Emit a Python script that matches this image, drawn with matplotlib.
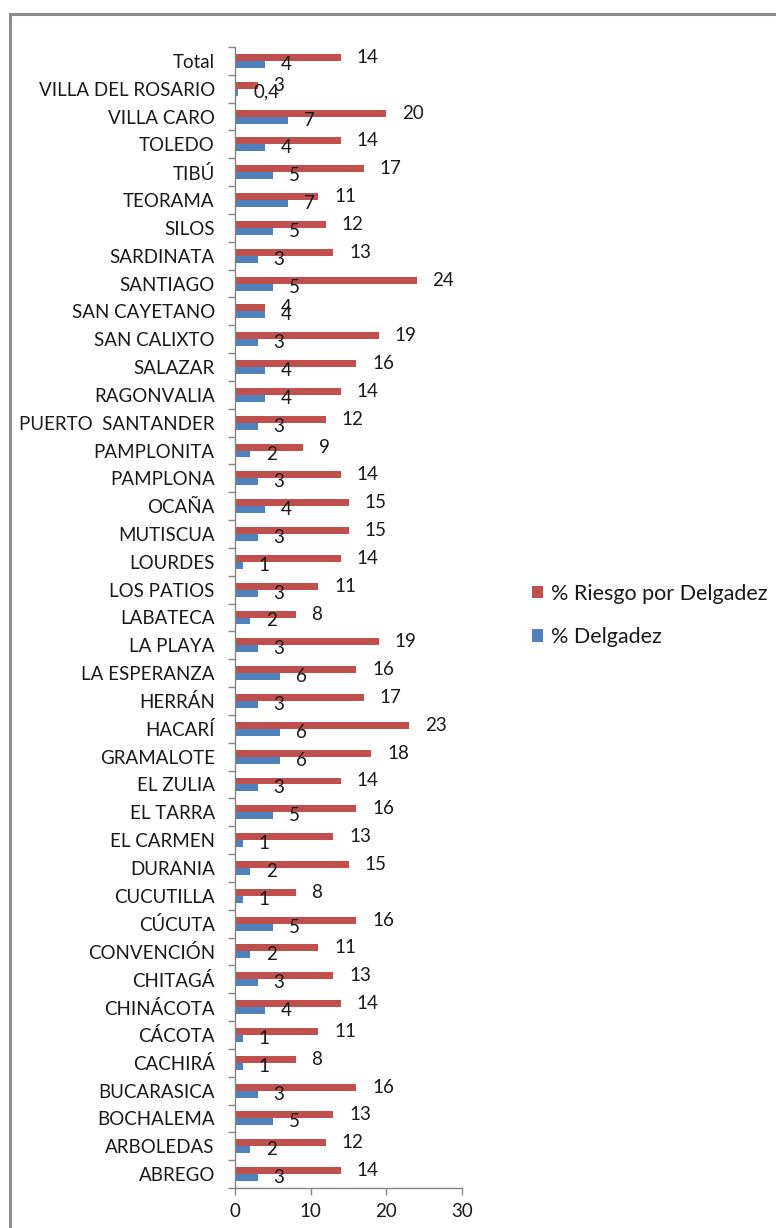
import matplotlib
matplotlib.use("Agg")
import matplotlib.pyplot as plt
from matplotlib.patches import Rectangle
import numpy as np

plt.rcParams['font.family'] = ['Lato', 'DejaVu Sans']

municipios = [
    "ABREGO", "ARBOLEDAS", "BOCHALEMA", "BUCARASICA", "CACHIRÁ", "CÁCOTA",
    "CHINÁCOTA", "CHITAGÁ", "CONVENCIÓN", "CÚCUTA", "CUCUTILLA", "DURANIA",
    "EL CARMEN", "EL TARRA", "EL ZULIA", "GRAMALOTE", "HACARÍ", "HERRÁN",
    "LA ESPERANZA", "LA PLAYA", "LABATECA", "LOS PATIOS", "LOURDES",
    "MUTISCUA", "OCAÑA", "PAMPLONA", "PAMPLONITA", "PUERTO  SANTANDER",
    "RAGONVALIA", "SALAZAR", "SAN CALIXTO", "SAN CAYETANO", "SANTIAGO",
    "SARDINATA", "SILOS", "TEORAMA", "TIBÚ", "TOLEDO", "VILLA CARO",
    "VILLA DEL ROSARIO", "Total",
]
riesgo_delgadez = [
    14, 12, 13, 16, 8, 11, 14, 13, 11, 16, 8, 15, 13, 16, 14, 18, 23, 17,
    16, 19, 8, 11, 14, 15, 15, 14, 9, 12, 14, 16, 19, 4, 24, 13, 12, 11,
    17, 14, 20, 3, 14,
]
delgadez = [
    3, 2, 5, 3, 1, 1, 4, 3, 2, 5, 1, 2, 1, 5, 3, 6, 6, 3, 6, 3, 2, 3, 1,
    3, 4, 3, 2, 3, 4, 4, 3, 4, 5, 3, 5, 7, 5, 4, 7, 0.4, 4,
]
x_ticks = [0, 10, 20, 30]

RED = "#C0504D"
BLUE = "#4F81BD"
AXIS = "#868686"
TXT = "#1a1a1a"
FS = 13.5

fig = plt.figure(figsize=(7.76, 12.28), dpi=100)

# outer chart-area border
fig.patches.append(Rectangle((9.5 / 776, -0.05), 1.2, 1.05 - 13.5 / 1228,
                             transform=fig.transFigure, fill=False,
                             edgecolor="#8C8C8C", linewidth=2.2))

ax = fig.add_axes([235 / 776, 1 - 1188 / 1228, (462 - 235) / 776, (1188 - 47) / 1228])

y = np.arange(len(municipios))
h = 0.25
b_red = ax.barh(y + h / 2, riesgo_delgadez, height=h, color=RED, label="% Riesgo por Delgadez")
b_blue = ax.barh(y - h / 2, delgadez, height=h, color=BLUE, label="% Delgadez")


def fmt(v):
    return f"{v:g}".replace(".", ",")


ax.bar_label(b_red, labels=[fmt(v) for v in riesgo_delgadez], padding=11.5,
             fontsize=FS, color=TXT)
ax.bar_label(b_blue, labels=[fmt(v) for v in delgadez], padding=11.5,
             fontsize=FS, color=TXT)

ax.set_ylim(-0.5, len(municipios) - 0.5)
ax.set_xlim(0, 30)
ax.set_xticks(x_ticks)
ax.set_xticklabels([str(t) for t in x_ticks], fontsize=FS, color=TXT)

# category labels at centres, tick marks on category boundaries
ax.set_yticks(y)
ax.set_yticklabels(municipios, fontsize=FS, color=TXT)
ax.tick_params(axis="y", which="major", length=0, pad=14.5)
ax.set_yticks(np.arange(len(municipios) + 1) - 0.5, minor=True)
ax.tick_params(axis="y", which="minor", length=5, color=AXIS, width=1)
ax.tick_params(axis="x", length=5, color=AXIS, width=1, pad=6)

for s in ["top", "right"]:
    ax.spines[s].set_visible(False)
for s in ["left", "bottom"]:
    ax.spines[s].set_color(AXIS)
    ax.spines[s].set_linewidth(1)

handles = [b_red, b_blue]
fig.legend(handles, [hd.get_label() for hd in handles], loc="upper left",
           bbox_to_anchor=(523 / 776, 1 - 575 / 1228), frameon=False,
           fontsize=15.5, handlelength=0.55, handleheight=0.55, handletextpad=0.35,
           labelspacing=1.1, borderaxespad=0, labelcolor=TXT)

fig.savefig("out.png", dpi=100)
